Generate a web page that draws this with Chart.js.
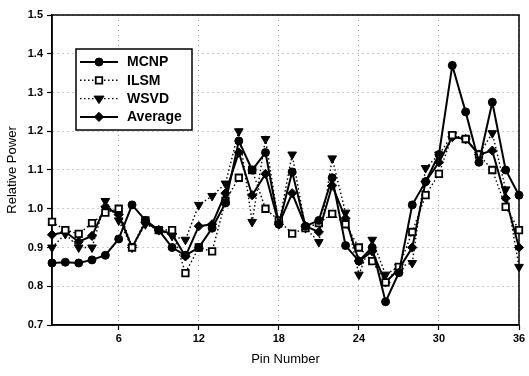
<!DOCTYPE html>
<html>
<head>
<meta charset="utf-8">
<script src="https://cdn.jsdelivr.net/npm/chart.js@4/dist/chart.umd.min.js"></script>
<style>
  html, body { margin: 0; padding: 0; background: #fff; }
  #wrap { width: 529px; height: 376px; }
</style>
</head>
<body>
<div id="wrap"><canvas id="c" width="529" height="376"></canvas></div>
<script>
// Pin numbers along the x axis
const pins = [1,2,3,4,5,6,7,8,9,10,11,12,13,14,15,16,17,18,19,20,21,22,23,24,25,26,27,28,29,30,31,32,33,34,35,36];
const xTicks = [6, 12, 18, 24, 30, 36];
const yTicks = [0.7, 0.8, 0.9, 1.0, 1.1, 1.2, 1.3, 1.4, 1.5];

// Relative power per pin for each method
const mcnp = [0.86,0.862,0.86,0.868,0.88,0.922,1.01,0.97,0.945,0.9,0.88,0.9,0.95,1.015,1.175,1.1,1.145,0.96,1.095,0.955,0.97,1.08,0.905,0.865,0.9,0.76,0.835,1.01,1.07,1.14,1.37,1.25,1.12,1.275,1.1,1.035];
const ilsm = [0.966,0.945,0.935,0.963,0.99,1.0,0.9,0.97,0.945,0.945,0.834,0.9,0.89,1.02,1.08,1.1,1.0,0.97,0.936,0.95,0.963,0.987,0.96,0.9,0.865,0.81,0.85,0.94,1.035,1.09,1.19,1.18,1.14,1.1,1.005,0.945];
const wsvd = [0.9,0.935,0.9,0.9,1.02,0.97,0.9,0.96,0.945,0.93,0.92,1.01,1.033,1.065,1.2,0.966,1.18,0.96,1.14,0.95,0.914,1.13,0.99,0.83,0.92,0.83,0.85,0.86,1.105,1.14,1.19,1.18,1.14,1.195,1.05,0.85];
const average = [0.933,0.94,0.915,0.93,1.005,0.985,0.9,0.965,0.945,0.935,0.877,0.955,0.96,1.04,1.145,1.035,1.09,0.96,1.04,0.955,0.94,1.06,0.975,0.865,0.89,0.81,0.845,0.9,1.07,1.12,1.185,1.18,1.14,1.15,1.027,0.9];

const seriesNames = ['MCNP', 'ILSM', 'WSVD', 'Average'];

const FONT = "'Liberation Sans', Arial, sans-serif";

function pts(vals) { return pins.map((p, i) => ({ x: p, y: vals[i] })); }

const datasets = [
  { label: seriesNames[0], data: pts(mcnp), borderColor: '#000', borderWidth: 2,
    pointStyle: 'circle', pointRadius: 4, pointBackgroundColor: '#000', pointBorderColor: '#000', pointBorderWidth: 1 },
  { label: seriesNames[1], data: pts(ilsm), borderColor: '#000', borderWidth: 1.4, borderDash: [1.5, 2.5],
    pointStyle: 'rect', pointRadius: 4.6, pointBackgroundColor: '#fff', pointBorderColor: '#000', pointBorderWidth: 1.8 },
  { label: seriesNames[2], data: pts(wsvd), borderColor: '#000', borderWidth: 1.4, borderDash: [1.5, 2.5],
    pointStyle: 'triangle', pointRotation: 180, pointRadius: 5, pointBackgroundColor: '#000', pointBorderColor: '#000', pointBorderWidth: 1 },
  { label: seriesNames[3], data: pts(average), borderColor: '#000', borderWidth: 2,
    pointStyle: 'rectRot', pointRadius: 4.6, pointBackgroundColor: '#000', pointBorderColor: '#000', pointBorderWidth: 1 }
];
datasets.forEach(d => { d.tension = 0; d.fill = false; d.clip = false; });

// Frame around the plotting area
const framePlugin = {
  id: 'frame',
  beforeDatasetsDraw(chart) {
    const { ctx, chartArea: a } = chart;
    ctx.save();
    ctx.strokeStyle = '#000';
    ctx.lineWidth = 1.5;
    ctx.strokeRect(a.left, a.top, a.right - a.left, a.bottom - a.top);
    ctx.restore();
  }
};

function marker(ctx, ds, x, y) {
  const r = ds.pointRadius;
  ctx.save();
  ctx.fillStyle = ds.pointBackgroundColor;
  ctx.strokeStyle = ds.pointBorderColor;
  ctx.lineWidth = ds.pointBorderWidth;
  ctx.setLineDash([]);
  ctx.beginPath();
  if (ds.pointStyle === 'circle') {
    ctx.arc(x, y, r, 0, Math.PI * 2);
  } else if (ds.pointStyle === 'rect') {
    const s = r * Math.SQRT1_2;
    ctx.rect(x - s, y - s, 2 * s, 2 * s);
  } else if (ds.pointStyle === 'triangle') {
    const h = r * 1.5;
    ctx.moveTo(x - r, y - h / 3);
    ctx.lineTo(x + r, y - h / 3);
    ctx.lineTo(x, y + 2 * h / 3);
    ctx.closePath();
  } else if (ds.pointStyle === 'rectRot') {
    ctx.moveTo(x, y - r); ctx.lineTo(x + r, y); ctx.lineTo(x, y + r); ctx.lineTo(x - r, y);
    ctx.closePath();
  }
  ctx.fill();
  ctx.stroke();
  ctx.restore();
}

// Boxed legend inside the upper-left of the plot
const legendBox = {
  id: 'legendBox',
  afterDraw(chart) {
    const { ctx } = chart;
    const bx = 76, by = 49, bw = 116, bh = 81;
    ctx.save();
    ctx.fillStyle = '#fff';
    ctx.fillRect(bx, by, bw, bh);
    ctx.strokeStyle = '#000';
    ctx.lineWidth = 1.5;
    ctx.strokeRect(bx, by, bw, bh);
    chart.data.datasets.forEach((ds, i) => {
      const y = 62 + i * 18.3;
      ctx.save();
      ctx.strokeStyle = ds.borderColor;
      ctx.lineWidth = ds.borderWidth;
      ctx.setLineDash(ds.borderDash || []);
      ctx.beginPath();
      ctx.moveTo(80, y);
      ctx.lineTo(118, y);
      ctx.stroke();
      ctx.restore();
      marker(ctx, ds, 99, y);
      ctx.fillStyle = '#000';
      ctx.font = 'bold 14px ' + FONT;
      ctx.textBaseline = 'middle';
      ctx.textAlign = 'left';
      ctx.fillText(ds.label, 127, y + 0.5);
    });
    ctx.restore();
  }
};

new Chart(document.getElementById('c'), {
  type: 'line',
  data: { datasets },
  options: {
    responsive: false,
    animation: false,
    layout: { padding: { top: 15, right: 10, left: 0, bottom: 0 } },
    plugins: { legend: { display: false }, tooltip: { enabled: false } },
    scales: {
      x: {
        type: 'linear', min: 1, max: 36,
        afterBuildTicks(scale) { scale.ticks = xTicks.map(v => ({ value: v })); },
        afterFit(scale) { scale.height = 51; },
        ticks: { color: '#000', font: { family: FONT, size: 11, weight: 'bold' }, padding: 2, maxRotation: 0 },
        grid: { color: '#999', lineWidth: 1, tickColor: '#000', tickLength: 5, tickWidth: 1.2 },
        border: { display: true, color: '#000', width: 1.5, dash: [1, 4] },
        title: { display: true, text: 'Pin Number', color: '#000', font: { family: FONT, size: 13 }, padding: { top: 2, bottom: 9 } }
      },
      y: {
        type: 'linear', min: 0.7, max: 1.5,
        afterBuildTicks(scale) { scale.ticks = yTicks.map(v => ({ value: v })); },
        afterFit(scale) { scale.width = 52; },
        ticks: { color: '#000', font: { family: FONT, size: 11, weight: 'bold' }, padding: 4,
                 callback: v => v.toFixed(1) },
        grid: { color: '#999', lineWidth: 1, tickColor: '#000', tickLength: 5, tickWidth: 1.2 },
        border: { display: true, color: '#000', width: 1.5, dash: [1, 4] },
        title: { display: true, text: 'Relative Power', color: '#000', font: { family: FONT, size: 13 }, padding: { top: 5, bottom: 0 } }
      }
    }
  },
  plugins: [framePlugin, legendBox]
});
</script>
</body>
</html>
